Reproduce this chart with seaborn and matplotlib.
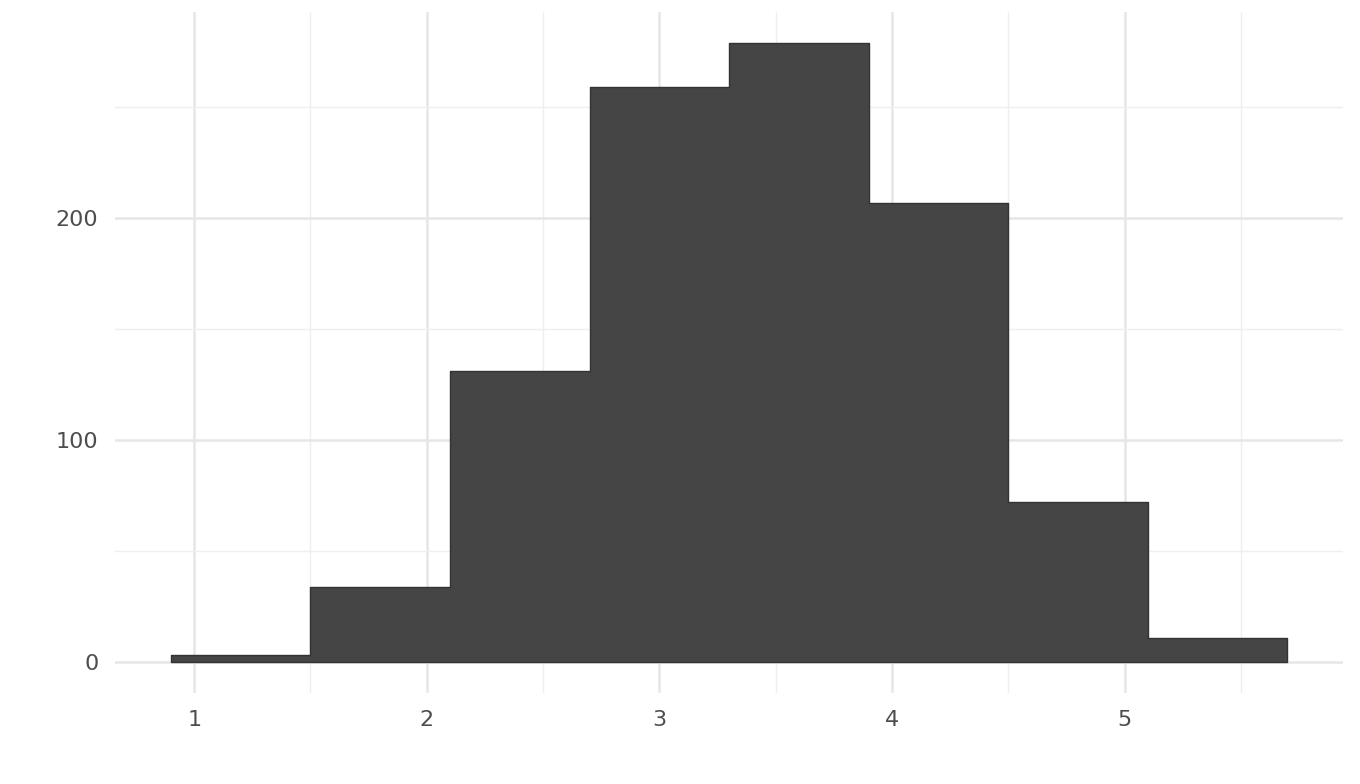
import numpy as np
import pandas as pd
import seaborn as sns
import matplotlib.pyplot as plt
from matplotlib.ticker import MultipleLocator

# Histogram bins (width 0.6)
bin_edges = [0.9, 1.5, 2.1, 2.7, 3.3, 3.9, 4.5, 5.1, 5.7]
bin_counts = [3, 34, 131, 259, 279, 207, 72, 11]
x_ticks = [1, 2, 3, 4, 5]
y_ticks = [0, 100, 200]

centers = [(a + b) / 2 for a, b in zip(bin_edges[:-1], bin_edges[1:])]
df = pd.DataFrame({"value": centers, "count": bin_counts})

sns.set_theme(style="white")
plt.rcParams["font.family"] = ["DejaVu Sans"]

fig = plt.figure(figsize=(13.6, 7.84), dpi=100)
ax = fig.add_axes([0.0846, 0.116, 0.903, 0.869])

sns.histplot(
    data=df,
    x="value",
    weights="count",
    bins=bin_edges,
    element="step",
    color="#454545",
    edgecolor="#333333",
    linewidth=1.0,
    alpha=1,
    ax=ax,
)

# ggplot-style 5% expansion
span = bin_edges[-1] - bin_edges[0]
ax.set_xlim(bin_edges[0] - 0.05 * span, bin_edges[-1] + 0.05 * span)
ymax = max(bin_counts)
ax.set_ylim(-0.05 * ymax, ymax * 1.05)

ax.set_xticks(x_ticks)
ax.set_yticks(y_ticks)
ax.xaxis.set_minor_locator(MultipleLocator(0.5))
ax.yaxis.set_minor_locator(MultipleLocator(50))
ax.grid(True, which="major", color="#e6e6e6", linewidth=1.8)
ax.grid(True, which="minor", color="#efefef", linewidth=1.0)
ax.set_axisbelow(True)

for s in ax.spines.values():
    s.set_visible(False)
ax.tick_params(axis="both", which="both", length=0, labelsize=16, labelcolor="#4d4d4d")
ax.tick_params(axis="x", pad=12)
ax.tick_params(axis="y", pad=12)
ax.set_xlabel("")
ax.set_ylabel("")

fig.savefig("out.png", dpi=100)
